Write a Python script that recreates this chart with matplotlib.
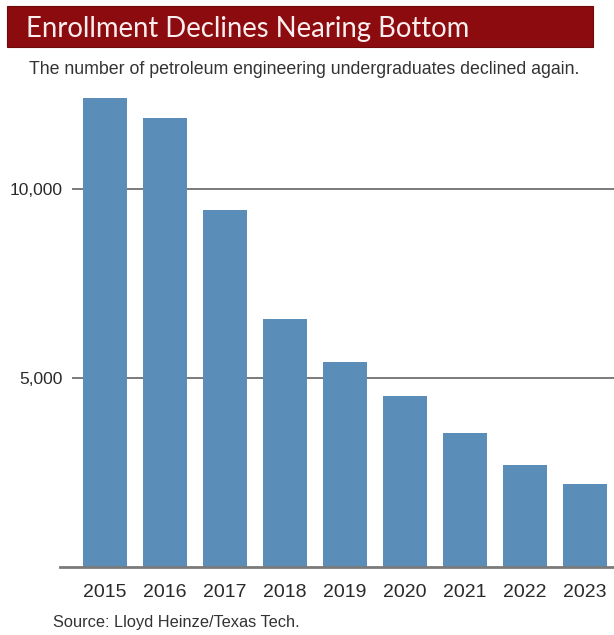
import matplotlib
matplotlib.use("Agg")
import matplotlib.pyplot as plt
from matplotlib.patches import Rectangle
from matplotlib.ticker import FuncFormatter

years = ["2015", "2016", "2017", "2018", "2019", "2020", "2021", "2022", "2023"]
enrollment = [12400, 11880, 9440, 6560, 5420, 4520, 3550, 2700, 2200]
ytick_values = [5000, 10000]

title = "Enrollment Declines Nearing Bottom"
subtitle = "The number of petroleum engineering undergraduates declined again."
source = "Source: Lloyd Heinze/Texas Tech."

W, H = 614, 635
fig = plt.figure(figsize=(W / 100, H / 100), dpi=100)
fig.patch.set_facecolor("white")

def fx(px):
    return px / W

def fy(py):
    return 1 - py / H

# banner
fig.patches.append(Rectangle((fx(7), fy(47)), fx(593) - fx(7), fy(6) - fy(47),
                             transform=fig.transFigure, facecolor="#8c0b0e",
                             edgecolor="#6e0a0a", linewidth=0.8, zorder=1))
fig.text(fx(26), fy(37), title, color="#fbeeee", fontsize=19.8, family="Lato",
         ha="left", va="baseline", zorder=2)
fig.text(fx(29), fy(70), subtitle, color="#333333", fontsize=12.8,
         family="Liberation Sans", ha="left", va="center")
fig.text(fx(53), fy(622), source, color="#333333", fontsize=11.8,
         family="Liberation Sans", ha="left", va="center")

ax = fig.add_axes([fx(72), fy(567), 1 - fx(72), fy(87) - fy(567)])
x = list(range(len(years)))
ax.bar(x, enrollment, width=0.73, color="#5a8db8", zorder=3)
ax.set_xlim(-0.55, 8.483)
ax.set_ylim(0, 12700)

for v in ytick_values:
    ax.axhline(v, color="#7a7a7a", linewidth=1.4, zorder=1)
ax.axhline(0, xmin=-0.022, xmax=1, color="#7a7a7a", linewidth=2.0,
           zorder=4, clip_on=False)

ax.set_yticks(ytick_values)
ax.yaxis.set_major_formatter(FuncFormatter(lambda v, p: f"{int(v):,}"))
ax.set_xticks(x)
ax.set_xticklabels(years)
ax.tick_params(axis="y", length=0, pad=6.5, labelsize=12.5, labelcolor="#2a2a2a")
ax.tick_params(axis="x", length=0, pad=12, labelsize=14, labelcolor="#2a2a2a")
for lab in ax.get_xticklabels() + ax.get_yticklabels():
    lab.set_family("Liberation Sans")
for s in ax.spines.values():
    s.set_visible(False)

fig.savefig("out.png", dpi=100, facecolor="white")
